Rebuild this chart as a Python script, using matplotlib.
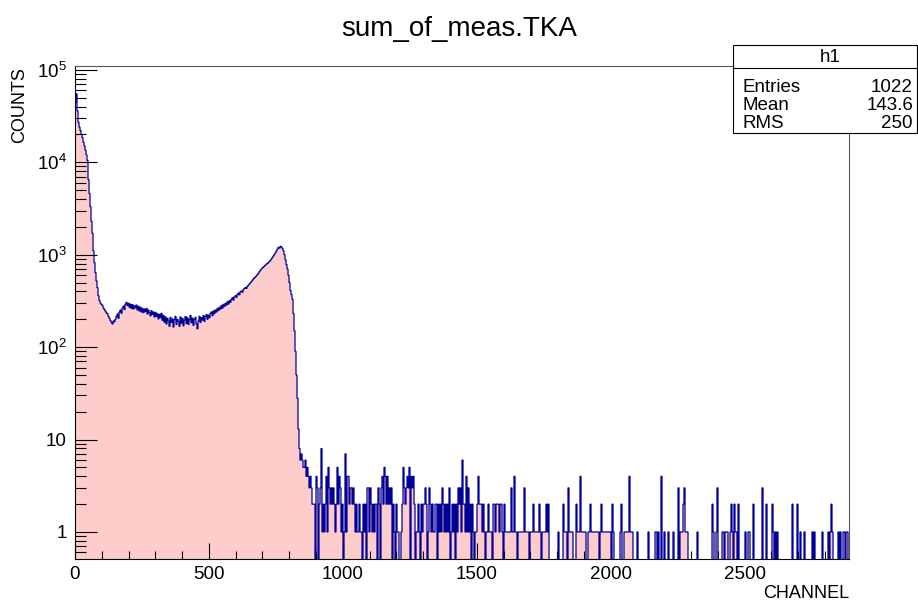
import numpy as np
import matplotlib
matplotlib.use("Agg")
import matplotlib.pyplot as plt
from matplotlib.patches import Rectangle
from matplotlib.lines import Line2D
from matplotlib.ticker import LogLocator, MultipleLocator, FixedLocator, FixedFormatter, NullFormatter

plt.rcParams['font.family'] = ['Liberation Sans', 'DejaVu Sans']
plt.rcParams['mathtext.fontset'] = 'custom'
plt.rcParams['mathtext.rm'] = 'Liberation Sans'
plt.rcParams['mathtext.it'] = 'Liberation Sans:italic'

# spectrum range (channels)
x_max = 2890.0

# counts per bin, low-energy part (peak, plateau, edge)
counts_main = [
    45000, 55000, 36000, 27000, 24000, 22000, 20000, 18500, 16500, 15000,
    13500, 12000, 10500, 6500, 4600, 3300, 2300, 1700, 1100, 820,
    640, 520, 440, 360, 320, 300, 290, 283, 265, 255,
    245, 235, 230, 215, 205, 194, 185, 178, 192, 188,
    200, 215, 228, 205, 240, 252, 232, 265, 278, 255,
    292, 305, 282, 298, 270, 292, 262, 288, 258, 280,
    266, 285, 252, 276, 246, 270, 240, 262, 236, 258,
    242, 262, 228, 252, 236, 218, 248, 226, 240, 212,
    238, 215, 230, 202, 226, 208, 232, 195, 220, 186,
    212, 178, 205, 192, 168, 210, 185, 202, 165, 198,
    215, 176, 200, 190, 168, 212, 182, 205, 170, 196,
    214, 180, 208, 176, 198, 220, 184, 206, 172, 200,
    210, 178, 158, 192, 215, 185, 208, 196, 220, 190,
    214, 225, 200, 222, 208, 232, 240, 218, 246, 230,
    252, 240, 262, 248, 270, 258, 282, 264, 290, 275,
    298, 285, 310, 292, 318, 305, 330, 342, 322, 350,
    360, 345, 372, 385, 368, 398, 405, 392, 420, 432,
    440, 432, 455, 468, 482, 495, 512, 530, 548, 560,
    575, 590, 610, 630, 655, 680, 700, 720, 735, 755,
    770, 790, 805, 820, 845, 870, 900, 935, 970, 1010,
    1050, 1100, 1150, 1200, 1180, 1230, 1210, 1170, 1100, 1000,
    880, 780, 700, 600, 500, 410, 370, 330, 230, 150,
    90, 50, 28, 13, 8, 6,
]

# counts per bin above the edge (one digit per bin)
counts_tail = (
    "7655645434" "3222043023" "8121241532" "3232125243" "1201714423"
    "3232121121" "1021203313" "2121220320" "3425424232" "3021021100"
    "1253234350" "4342011210" "2122320132" "1211220212" "1321212130"
    "1212021323" "1622141312" "0210112422" "2121011211" "1022122212"
    "2102111111" "3114110111" "1113111101" "1121111121" "0111121200"
    "0000000100" "0021110311" "1100021114" "1111100112" "1111111101"
    "2111111111" "0210000001" "2001111141" "1100001000" "0000000100"
    "0000110100" "4001000100" "0010000301" "1123111000" "0000001000"
    "0000000000" "0210013000" "0110111001" "2102110200" "0000100110"
    "0020000000" "0300020000" "0210101000" "0000000000" "0200002001"
    "0001000000" "0101000000" "0100000101" "2100000101" "00110110"
)

stats_labels = ["Entries", "Mean", "RMS"]
stats_values = ["1022", "143.6", "250"]

y_ticks = [1, 10, 100, 1000, 10000, 100000]
y_tick_labels = ["1", "10", r"$10^{2}$", r"$10^{3}$", r"$10^{4}$", r"$10^{5}$"]

counts = np.concatenate([np.array(counts_main, dtype=float),
                         np.array([int(c) for c in counts_tail], dtype=float)])
edges = np.linspace(0, x_max, len(counts) + 1)
draw_vals = np.where(counts > 0, counts, 1e-3)

W, H = 918, 602
fig = plt.figure(figsize=(W / 100, H / 100), dpi=100)


def fx(px):
    return px / W


def fy(py):
    return 1 - py / H


ax = fig.add_axes([fx(75), fy(559), fx(849) - fx(75), fy(66) - fy(559)])

ax.stairs(draw_vals, edges, fill=True, color='#ffcccc', baseline=1e-3, zorder=1)
ax.stairs(draw_vals, edges, color='#000099', lw=0.9, baseline=1e-3, zorder=2)

ax.set_yscale('log')
ax.set_xlim(0, x_max)
ax.set_ylim(0.51, 1.1e5)

ax.xaxis.set_major_locator(MultipleLocator(500))
ax.xaxis.set_minor_locator(MultipleLocator(100))
ax.yaxis.set_major_locator(FixedLocator(y_ticks))
ax.yaxis.set_major_formatter(FixedFormatter(y_tick_labels))
ax.yaxis.set_minor_locator(LogLocator(base=10, subs=np.arange(2, 10)))
ax.yaxis.set_minor_formatter(NullFormatter())

ax.tick_params(axis='x', which='major', direction='in', length=11.5, width=0.8,
               labelsize=13.5, pad=5, top=False)
ax.tick_params(axis='x', which='minor', direction='in', length=5.8, width=0.8, top=False)
ax.tick_params(axis='y', which='major', direction='in', length=15.8, width=0.8,
               labelsize=13.5, pad=6, right=False)
ax.tick_params(axis='y', which='minor', direction='in', length=8, width=0.8, right=False)

for side in ['left', 'bottom']:
    ax.spines[side].set_color('black')
    ax.spines[side].set_linewidth(0.8)
for side in ['top', 'right']:
    ax.spines[side].set_color('#555555')
    ax.spines[side].set_linewidth(0.8)

fig.text(fx(459), fy(29), "sum_of_meas.TKA", ha='center', va='center', fontsize=20)
fig.text(fx(20), fy(67), "COUNTS", ha='center', va='top', rotation=90, fontsize=13)
fig.text(fx(849), fy(593), "CHANNEL", ha='right', va='center', fontsize=13)

# statistics box
box = Rectangle((fx(733), fy(133)), fx(917) - fx(733), fy(45) - fy(133),
                transform=fig.transFigure, facecolor='white', edgecolor='black',
                lw=0.8, zorder=5)
fig.add_artist(box)
fig.add_artist(Line2D([fx(733), fx(917)], [fy(68), fy(68)], transform=fig.transFigure,
                      color='black', lw=0.8, zorder=6))
fig.text(fx(830), fy(57), "h1", ha='center', va='center', fontsize=13.5, zorder=7)
for k, (lab, val) in enumerate(zip(stats_labels, stats_values)):
    yy = fy(88 + 18 * k)
    fig.text(fx(743), yy, lab, ha='left', va='center', fontsize=13.5, zorder=7)
    fig.text(fx(913), yy, val, ha='right', va='center', fontsize=13.5, zorder=7)

fig.savefig("out.png", dpi=100)
